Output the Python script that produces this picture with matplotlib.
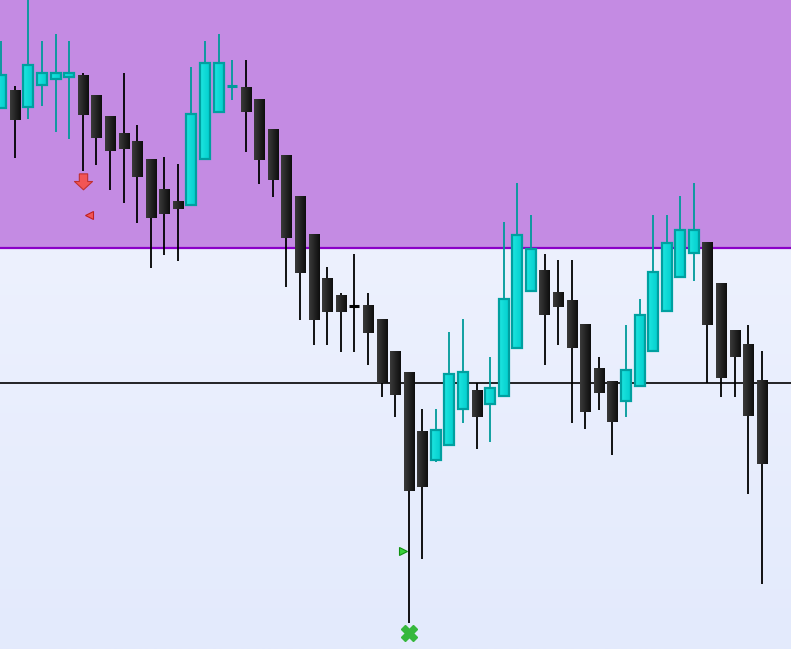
import numpy as np
import matplotlib
matplotlib.use("Agg")
import matplotlib.pyplot as plt
from matplotlib.path import Path

# OHLC data (one candle per bar)
opens = [1.1125, 1.1142, 1.1126, 1.1148, 1.1154, 1.1156, 1.1158, 1.1138, 1.1117, 1.1100,
         1.1092, 1.1074, 1.1044, 1.1032, 1.1028, 1.1074, 1.1121, 1.11465, 1.1146, 1.1134,
         1.1103, 1.1078, 1.1037, 1.0998, 1.0955, 1.0938, 1.0928, 1.0928, 1.0914, 1.0882,
         1.0860, 1.0801, 1.0773, 1.0788, 1.0824, 1.0842, 1.0829, 1.0837, 1.0885, 1.0942,
         1.0963, 1.0940, 1.0933, 1.0909, 1.0865, 1.0852, 1.0832, 1.0847, 1.0882, 1.0922,
         1.0956, 1.0980, 1.0991, 1.0950, 1.0902, 1.0889, 1.0853]
highs = [1.1192, 1.1147, 1.1238, 1.1192, 1.1199, 1.1192, 1.1160, 1.1138, 1.1117, 1.1160,
         1.1108, 1.1074, 1.1076, 1.1069, 1.1166, 1.1192, 1.1199, 1.1173, 1.1173, 1.1134,
         1.1103, 1.1078, 1.1037, 1.0998, 1.0966, 1.0940, 1.0979, 1.0940, 1.0914, 1.0882,
         1.0860, 1.0824, 1.0824, 1.0901, 1.0914, 1.0850, 1.0876, 1.1011, 1.1050, 1.1018,
         1.0979, 1.0973, 1.0973, 1.0909, 1.0876, 1.0852, 1.0908, 1.0934, 1.1018, 1.1018,
         1.1037, 1.1050, 1.0991, 1.0950, 1.0902, 1.0908, 1.0882]
lows = [1.1125, 1.1075, 1.1114, 1.1127, 1.1101, 1.1094, 1.1062, 1.1068, 1.1043, 1.1030,
        1.1010, 1.0965, 1.0978, 1.0972, 1.1028, 1.1074, 1.1121, 1.1133, 1.1081, 1.1049,
        1.1036, 1.0946, 1.0913, 1.0888, 1.0888, 1.0881, 1.0881, 1.0868, 1.0836, 1.0816,
        1.0610, 1.0674, 1.0771, 1.0788, 1.0810, 1.0784, 1.0791, 1.0837, 1.0885, 1.0942,
        1.0868, 1.0888, 1.0810, 1.0804, 1.0823, 1.0778, 1.0816, 1.0847, 1.0882, 1.0922,
        1.0956, 1.0952, 1.0850, 1.0836, 1.0836, 1.0739, 1.0649]
closes = [1.1158, 1.1113, 1.1168, 1.1160, 1.1160, 1.1160, 1.1118, 1.1095, 1.1082, 1.1084,
          1.1056, 1.1015, 1.1019, 1.1024, 1.1119, 1.1170, 1.1170, 1.11475, 1.1121, 1.1073,
          1.1053, 1.0995, 1.0960, 1.0913, 1.0921, 1.0921, 1.0927, 1.0900, 1.0850, 1.0838,
          1.0742, 1.0746, 1.0803, 1.0859, 1.0861, 1.0816, 1.0845, 1.0934, 1.0998, 1.0984,
          1.0918, 1.0926, 1.0885, 1.0821, 1.0840, 1.0811, 1.0863, 1.0918, 1.0961, 1.0990,
          1.1003, 1.1003, 1.0908, 1.0855, 1.0876, 1.0817, 1.0769]

# levels and signal markers
zone_level = 1.0985
line_level = 1.0850
sell_arrow = (6, 1.1052)
sell_tri = (6.44, 1.1018)
buy_tri = (29.6, 1.0682)
buy_cross = (30, 1.0600)

y_top, y_bottom = 1.1233, 1.0584
x_left, x_right = -0.096, 58.15

fig = plt.figure(figsize=(7.91, 6.49), dpi=100)
ax = fig.add_axes([0, 0, 1, 1])
ax.set_axis_off()

# background gradient
bg = np.linspace(0, 1, 256).reshape(-1, 1)
bg_cmap = matplotlib.colors.LinearSegmentedColormap.from_list("bg", ["#f3f5ff", "#e3eafc"])
ax.imshow(bg, cmap=bg_cmap, extent=[x_left, x_right, y_bottom, y_top], origin="upper",
          aspect="auto", zorder=0)

# purple zone
ax.axhspan(zone_level, y_top, color="#c48be3", zorder=1, lw=0)
ax.axhline(zone_level, color="#8a00c8", lw=1.6, zorder=2)
ax.axhline(line_level, color="#000000", lw=1.2, zorder=2)

# candles
w = 0.74
grad = np.linspace(0, 1, 32).reshape(1, -1)
black_cmap = matplotlib.colors.LinearSegmentedColormap.from_list("bk", ["#3a3a3a", "#0e0e0e"])
cyan_cmap = matplotlib.colors.LinearSegmentedColormap.from_list("cy", ["#1ee6e0", "#00cccc"])
for i, (o, h, l, c) in enumerate(zip(opens, highs, lows, closes)):
    bull = c >= o
    wick_col = "#009a9a" if bull else "#000000"
    top, bot = max(o, c), min(o, c)
    ax.vlines(i, l, h, color=wick_col, lw=1.3, zorder=3)
    if top - bot < 0.00015:
        ax.hlines((o + c) / 2, i - w / 2, i + w / 2, color=wick_col, lw=2.2, zorder=4)
        continue
    ax.imshow(grad, cmap=cyan_cmap if bull else black_cmap,
              extent=[i - w / 2, i + w / 2, bot, top], aspect="auto", zorder=4)
    if bull:
        ax.add_patch(plt.Rectangle((i - w / 2, bot), w, top - bot, fill=False,
                                   ec="#00a0a0", lw=1.6, zorder=5))

# signal markers
arrow = Path([(-0.3, 0.55), (0.3, 0.55), (0.3, 0.0), (0.65, 0.0), (0, -0.6),
              (-0.65, 0.0), (-0.3, 0.0), (-0.3, 0.55)])
ax.plot(*sell_arrow, marker=arrow, ms=13, color="#f25555", mec="#c03030", mew=0.8, zorder=6)
ax.plot(*sell_tri, marker="<", ms=5.5, color="#f25555", mec="#c02020", mew=0.8, zorder=6)
ax.plot(*buy_tri, marker=">", ms=5.5, color="#3ad03a", mec="#109010", mew=0.8, zorder=6)
ax.plot(*buy_cross, marker="X", ms=11, color="#36b83c", mec="#36b83c", zorder=6)

ax.set_xlim(x_left, x_right)
ax.set_ylim(y_bottom, y_top)

fig.savefig("out.png", dpi=100)
